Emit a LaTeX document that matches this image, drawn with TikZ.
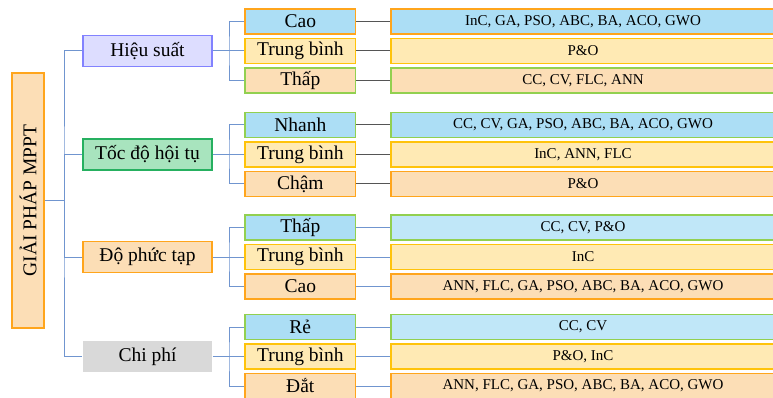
\documentclass[tikz,border=0pt]{standalone}
\usepackage{fontspec}
\setmainfont{Liberation Serif}
\usepackage{tikz}

\definecolor{lineblue}{RGB}{112,149,207}
\definecolor{linegray}{RGB}{85,85,85}
\definecolor{lavfill}{RGB}{221,221,255}
\definecolor{lavdraw}{RGB}{130,130,255}
\definecolor{grfill}{RGB}{168,228,190}
\definecolor{grdraw}{RGB}{38,176,96}
\definecolor{peach}{RGB}{252,222,182}
\definecolor{orng}{RGB}{255,165,28}
\definecolor{skyfill}{RGB}{172,222,245}
\definecolor{skylight}{RGB}{192,231,248}
\definecolor{yelfill}{RGB}{255,234,180}
\definecolor{gold}{RGB}{255,195,10}
\definecolor{lime}{RGB}{146,208,80}
\definecolor{greyfill}{RGB}{217,217,217}

\begin{document}
\begin{tikzpicture}[x=1pt,y=-1pt,
	box/.style = {line width=1.5pt, inner sep=0pt, align=center},
	big/.style = {font=\fontsize{19.5pt}{21pt}\selectfont},
	small/.style = {font=\fontsize{15pt}{17pt}\selectfont},
	lvone/.style = {box, big, minimum width=129, minimum height=31},
	lvtwo/.style = {box, big, minimum width=110.7, minimum height=25},
	lvthree/.style = {box, small, minimum width=384, minimum height=25},
	conn/.style = {draw=lineblue, line width=1pt},
	conngray/.style = {draw=linegray, line width=1pt}]

	\useasboundingbox (0,0) rectangle (773,398);

	% goc
	\node[box, big, draw=orng, fill=peach, minimum width=255, minimum height=32, rotate=90] (giaiphap) at (28,200.5) {GIẢI PHÁP MPPT};
	\coordinate (trunk) at (64,200.5);

	% tieu chi
	\node[lvone, draw=lavdraw, fill=lavfill] (hieusuat) at (147.5,51) {Hiệu suất};
	\node[lvone, draw=grdraw, fill=grfill] (tocdo) at (147.5,154.5) {Tốc độ hội tụ};
	\node[lvone, draw=orng, fill=peach] (phuctap) at (147.5,257) {Độ phức tạp};
	\node[lvone, fill=greyfill] (chiphi) at (147.5,356.5) {Chi phí};

	\draw[conn] (giaiphap.south) -- (trunk);
	\draw[conn] (hieusuat.west) -| (trunk) |- (chiphi.west);
	\draw[conn] (tocdo.west) -| (trunk);
	\draw[conn] (phuctap.west) -| (trunk);

	% hieu suat
	\node[lvtwo, draw=orng, fill=skyfill] (hs1) at (300.3,21.5) {Cao};
	\node[lvtwo, draw=gold, fill=yelfill] (hs2) at (300.3,51) {Trung bình};
	\node[lvtwo, draw=lime, fill=peach] (hs3) at (300.3,80.5) {Thấp};
	\coordinate (hsb) at (229,51);
	\draw[conn] (hieusuat.east) -- (hsb);
	\draw[conn] (hs1.west) -| (hsb) |- (hs3.west);
	\draw[conn] (hs2.west) -- (hsb);
	\node[lvthree, draw=orng, fill=skyfill] (hs1m) at (583,21.5) {InC, GA, PSO, ABC, BA, ACO, GWO};
	\node[lvthree, draw=gold, fill=yelfill] (hs2m) at (583,51) {P\&O};
	\node[lvthree, draw=lime, fill=peach] (hs3m) at (583,80.5) {CC, CV, FLC, ANN};
	\draw[conngray] (hs1) -- (hs1m);
	\draw[conngray] (hs2) -- (hs2m);
	\draw[conngray] (hs3) -- (hs3m);

	% toc do hoi tu
	\node[lvtwo, draw=lime, fill=skyfill] (td1) at (300.3,125) {Nhanh};
	\node[lvtwo, draw=gold, fill=yelfill] (td2) at (300.3,154.5) {Trung bình};
	\node[lvtwo, draw=orng, fill=peach] (td3) at (300.3,184) {Chậm};
	\coordinate (tdb) at (229,154.5);
	\draw[conn] (tocdo.east) -- (tdb);
	\draw[conn] (td1.west) -| (tdb) |- (td3.west);
	\draw[conn] (td2.west) -- (tdb);
	\node[lvthree, draw=lime, fill=skyfill] (td1m) at (583,125) {CC, CV, GA, PSO, ABC, BA, ACO, GWO};
	\node[lvthree, draw=gold, fill=yelfill] (td2m) at (583,154.5) {InC, ANN, FLC};
	\node[lvthree, draw=orng, fill=peach] (td3m) at (583,184) {P\&O};
	\draw[conngray] (td1) -- (td1m);
	\draw[conngray] (td2) -- (td2m);
	\draw[conngray] (td3) -- (td3m);

	% do phuc tap
	\node[lvtwo, draw=lime, fill=skyfill] (pt1) at (300.3,227.5) {Thấp};
	\node[lvtwo, draw=gold, fill=yelfill] (pt2) at (300.3,257) {Trung bình};
	\node[lvtwo, draw=orng, fill=peach] (pt3) at (300.3,286.5) {Cao};
	\coordinate (ptb) at (229,257);
	\draw[conn] (phuctap.east) -- (ptb);
	\draw[conn] (pt1.west) -| (ptb) |- (pt3.west);
	\draw[conn] (pt2.west) -- (ptb);
	\node[lvthree, draw=lime, fill=skylight] (pt1m) at (583,227.5) {CC, CV, P\&O};
	\node[lvthree, draw=gold, fill=yelfill] (pt2m) at (583,257) {InC};
	\node[lvthree, draw=orng, fill=peach] (pt3m) at (583,286.5) {ANN, FLC, GA, PSO, ABC, BA, ACO, GWO};
	\draw[conn] (pt1) -- (pt1m);
	\draw[conn] (pt2) -- (pt2m);
	\draw[conn] (pt3) -- (pt3m);

	% chi phi
	\node[lvtwo, draw=lime, fill=skyfill] (cp1) at (300.3,327) {Rẻ};
	\node[lvtwo, draw=gold, fill=yelfill] (cp2) at (300.3,356.5) {Trung bình};
	\node[lvtwo, draw=orng, fill=peach] (cp3) at (300.3,386) {Đắt};
	\coordinate (cpb) at (229,356.5);
	\draw[conn] (chiphi.east) -- (cpb);
	\draw[conn] (cp1.west) -| (cpb) |- (cp3.west);
	\draw[conn] (cp2.west) -- (cpb);
	\node[lvthree, draw=lime, fill=skylight] (cp1m) at (583,327) {CC, CV};
	\node[lvthree, draw=gold, fill=yelfill] (cp2m) at (583,356.5) {P\&O, InC};
	\node[lvthree, draw=orng, fill=peach] (cp3m) at (583,386) {ANN, FLC, GA, PSO, ABC, BA, ACO, GWO};
	\draw[conn] (cp1) -- (cp1m);
	\draw[conn] (cp2) -- (cp2m);
	\draw[conn] (cp3) -- (cp3m);

\end{tikzpicture}
\end{document}
